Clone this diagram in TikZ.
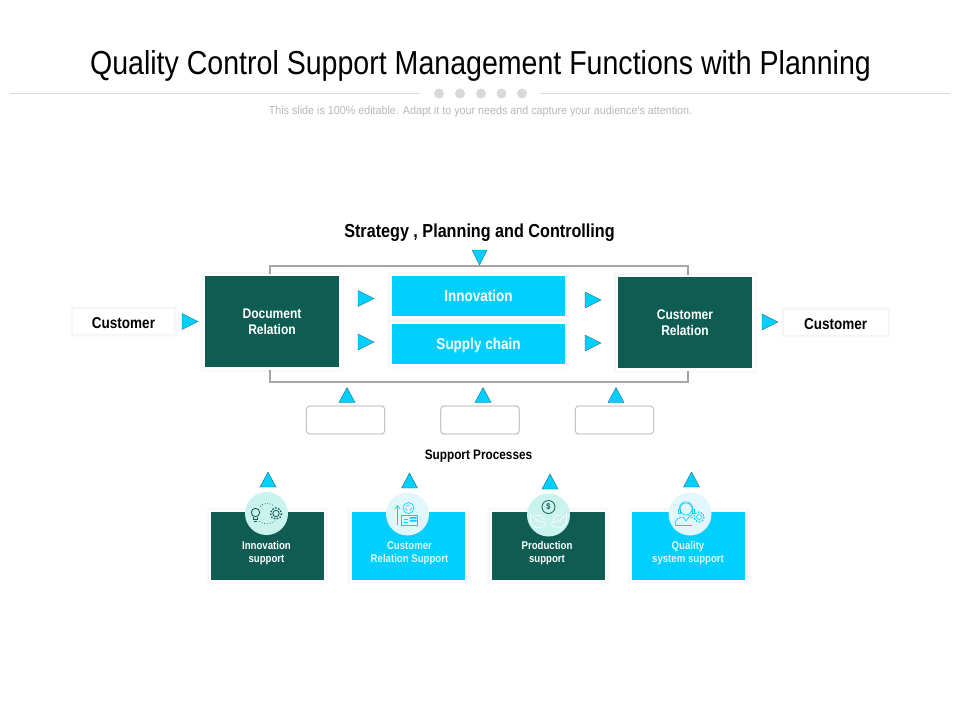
\documentclass[tikz,border=0pt]{standalone}
\usepackage{fontspec}
\setmainfont{Liberation Sans}[FakeStretch=0.86]
\newfontfamily\plainfont{Liberation Sans}[FakeStretch=0.93]
\definecolor{dgreen}{HTML}{0E5C52}
\definecolor{cyanbox}{HTML}{00CFFF}
\definecolor{triedge}{HTML}{1E6E78}
\definecolor{framegray}{HTML}{A6A6A6}
\definecolor{mint}{HTML}{CBF3EE}
\definecolor{pale}{HTML}{E2F7FB}
\newcommand{\fs}[2]{\fontsize{#1}{#2}\selectfont}
\tikzset{
  x=1pt,y=-1pt,
  softshadow/.style={
    preaction={draw=black,draw opacity=.006,line width=8pt},
    preaction={draw=black,draw opacity=.008,line width=6.5pt},
    preaction={draw=black,draw opacity=.010,line width=5pt},
    preaction={draw=black,draw opacity=.012,line width=3.5pt}},
  mainbox/.style={softshadow,draw=white,line width=2.5pt,inner sep=0,align=center,text=white,font=\bfseries\fs{14}{16}},
  darkbox/.style={mainbox,fill=dgreen,minimum width=136.5pt,minimum height=93.5pt},
  cyanmid/.style={mainbox,fill=cyanbox,minimum width=175.5pt,minimum height=42.5pt,font=\bfseries\fs{15.7}{16}},
  custbox/.style={softshadow,draw=white,line width=.1pt,fill=white,inner sep=0,minimum width=100pt,minimum height=24pt,font=\bfseries\fs{15.7}{16},text=black,text height=14.3pt,text depth=0pt},
  emptybox/.style={draw=framegray,fill=white,rounded corners=3.5pt,line width=.7pt,minimum width=78.5pt,minimum height=28pt,inner sep=0},
  cardbase/.style={softshadow,draw=white,line width=1.8pt,inner sep=0,align=center,minimum width=114.8pt,minimum height=69.8pt},
  cardtext/.style={inner sep=0,align=center,text=white,font=\bfseries\fs{11.2}{13}},
  badge/.style={circle,inner sep=0,minimum size=43pt},
  tri/.style={fill=cyanbox,draw=triedge,line width=.4pt,line join=miter},
  dgline/.style={draw=dgreen,line width=.6pt},
  cyline/.style={draw=cyanbox,line width=.6pt},
  whline/.style={draw=white,line width=.6pt},
}
\newcommand{\triR}[2]{\path[tri] (#1-8,#2-8) -- (#1+8,#2) -- (#1-8,#2+8) -- cycle;}
\newcommand{\triU}[2]{\path[tri] (#1-8,#2+7.5) -- (#1,#2-7.5) -- (#1+8,#2+7.5) -- cycle;}
\newcommand{\triD}[2]{\path[tri] (#1-7.5,#2-7.5) -- (#1,#2+7.5) -- (#1+7.5,#2-7.5) -- cycle;}
\begin{document}
\begin{tikzpicture}
\useasboundingbox (0,0) rectangle (960,720);
\fill[white] (0,0) rectangle (960,720);
% header
\node[inner sep=0,font=\fs{33.2}{36},text=black] (title) at (480.5,66) {Quality Control Support Management Functions with Planning};
\coordinate (hl1) at (10,93.5); \coordinate (hl2) at (420,93.5);
\coordinate (hr1) at (540,93.5); \coordinate (hr2) at (950,93.5);
\draw[gray!30,line width=.7pt] (hl1) -- (hl2);
\draw[gray!30,line width=.7pt] (hr1) -- (hr2);
\foreach \x in {439,460,481,501.5,522}{\fill[black!15] (\x,93.5) circle (5);}
\node[inner sep=0,font=\plainfont\fs{11.55}{14},text=black!28] (sub) at (480.5,111.5) {This slide is 100\% editable. Adapt it to your needs and capture your audience's attention.};
\node[inner sep=0,font=\bfseries\fs{18.8}{20},text=black] (strategy) at (479.5,232.5) {Strategy , Planning and Controlling};
% frame
\coordinate (fa) at (270,266); \coordinate (fb) at (688,382);
\draw[framegray,line width=2pt] (fa) rectangle (fb);
% main boxes
\node[darkbox] (doc) at (272,321.5) {Document\\Relation};
\node[darkbox] (crel) at (685,322.5) {Customer\\Relation};
\node[cyanmid] (inno) at (478.5,296) {Innovation};
\node[cyanmid,text height=13.8pt,text depth=3.3pt] (supply) at (478.5,344) {Supply chain};
\node[custbox] (custL) at (123.5,321.5) {Customer};
\node[custbox,minimum width=103pt] (custR) at (835.5,322) {Customer};
% triangles
\triR{190}{321.5}
\triR{366}{298.5}
\triR{366}{342}
\triR{593}{300}
\triR{593}{343}
\triR{770}{322}
\triD{479.5}{257.5}
\triU{347}{395}
\triU{483}{395}
\triU{616}{395}
\triU{268}{479.5}
\triU{409.5}{480.5}
\triU{550}{481.5}
\triU{691.5}{479.5}
% empty boxes
\node[emptybox] (p1) at (345.5,420) {};
\node[emptybox] (p2) at (480,420) {};
\node[emptybox] (p3) at (614.5,420) {};
\node[inner sep=0,font=\bfseries\fs{13.7}{14},text=black] (support) at (478.5,456.5) {Support Processes};
% cards
\node[cardbase,fill=dgreen] (c1) at (267.5,546) {};
\node[cardbase,fill=cyanbox] (c2) at (408,546) {};
\node[cardbase,fill=dgreen] (c3) at (548,546) {};
\node[cardbase,fill=cyanbox] (c4) at (688.5,546) {};
\node[cardtext] (t1) at (266.5,553.5) {Innovation\\support};
\node[cardtext,text=white!88!cyanbox] (t2) at (409.5,553.5) {Customer\\Relation Support};
\node[cardtext] (t3) at (547,553.5) {Production\\support};
\node[cardtext,text=white!88!cyanbox] (t4) at (688,553.5) {Quality\\system support};
\node[badge,fill=mint] (b1) at (266.5,513.5) {};
\node[badge,fill=pale] (b2) at (407.5,514) {};
\node[badge,fill=mint] (b3) at (548.5,515) {};
\node[badge,fill=pale] (b4) at (690,514) {};
% icon 1: bulb, gear, dotted orbit
\begin{scope}[shift={(266.5,513.5)}]
  \draw[dgline,line width=.8pt] (-11,-1) circle (4.2);
  \draw[dgline,line width=.8pt] (-13,3) -- (-13,6) -- (-9,6) -- (-9,3);
  \draw[dgline,line width=.8pt] (-12.5,8) -- (-9.5,8);
  \draw[dgline,line width=.8pt] (9.5,0) circle (3.2);
  \draw[dgline,line width=1.3pt,dash pattern=on 1.6pt off 1.5pt] (9.5,0) circle (5.6);
  \draw[dgline,dotted,line width=.8pt] (-6,-7) .. controls (-3,-11) and (2,-11) .. (7,-8);
  \draw[dgline,dotted,line width=.8pt] (-7,8) .. controls (-3,11) and (2,11) .. (8,8);
\end{scope}
% icon 2: chart with arrow and panels
\begin{scope}[shift={(407.5,514)}]
  \draw[cyline] (-10,11) -- (-10,-8);
  \draw[cyline] (-12.5,-5) -- (-10,-8.5) -- (-7.5,-5);
  \draw[cyline] (1,-6) circle (5.5);
  \draw[cyline,dashed] (1,-6) circle (3);
  \draw[cyline] (-6,11) -- (-6,1) -- (10,1) -- (10,11) -- cycle;
  \fill[cyanbox] (2,3) rectangle (9,4.5) (2,6) rectangle (9,7.5);
  \draw[cyline] (-4,5) -- (0,5) (-4,8) -- (0,8);
\end{scope}
% icon 3: coin over hands
\begin{scope}[shift={(548.5,515)}]
  \draw[dgline,line width=.8pt] (0,-8) circle (6.5);
  \node[inner sep=0,font=\bfseries\fs{8.5}{9},text=dgreen] (dollar) at (0,-8) {\$};
  \draw[whline] (-18,-1) -- (-11,6) -- (-4,7) -- (-3,11) -- (-12,13) -- (-18,8) -- cycle;
  \draw[whline] (18,-1) -- (11,6) -- (4,7) -- (3,11) -- (12,13) -- (18,8) -- cycle;
  \draw[whline] (-14,1) -- (-8,0) -- (-4,5);
  \draw[whline] (14,1) -- (8,0) -- (4,5);
\end{scope}
% icon 4: agent with headset and gear
\begin{scope}[shift={(690,514)}]
  \draw[cyline] (-4,-5) circle (6);
  \draw[cyline] (-11,-4) .. controls (-11,-15) and (3,-15) .. (3,-4);
  \draw[cyline] (-12,-5) rectangle (-10,-1);
  \draw[cyline] (2,-5) rectangle (4,-1);
  \draw[cyline] (3,-1) .. controls (3,2) and (0,2) .. (-2,2);
  \draw[cyline] (-15,11) .. controls (-15,5) and (-11,3) .. (-7,3) -- (-4,7) -- (-1,3) .. controls (1,3) and (2,3.5) .. (3,4);
  \draw[cyline] (-15,11) -- (2,11);
  \draw[cyline] (9,3) circle (2.5);
  \draw[cyline,line width=1.2pt,dash pattern=on 1.6pt off 1.5pt] (9,3) circle (5);
\end{scope}
\end{tikzpicture}
\end{document}
